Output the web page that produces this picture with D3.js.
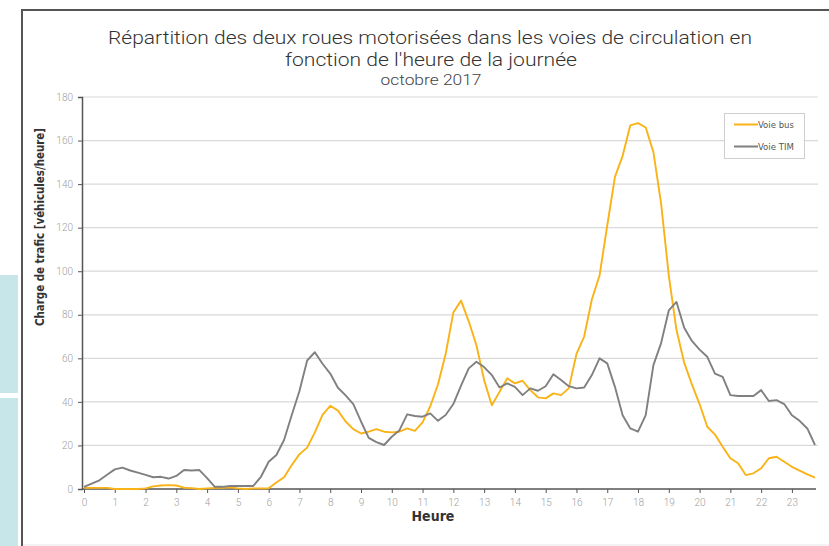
<!DOCTYPE html>
<html>
<head>
<meta charset="utf-8">
<script src="https://cdn.jsdelivr.net/npm/d3@7"></script>
<style>
  html, body { margin: 0; padding: 0; background: #ffffff; }
  svg { display: block; }
</style>
</head>
<body>
<svg id="chart" width="829" height="546"></svg>
<script>
// ---- Data (quarter-hour steps from 0:00 to 23:45) ----
const seriesNames = ["Voie bus", "Voie TIM"];
const seriesColors = ["#F9B317", "#808080"];

const voieBus = [
  0.5, 0.5, 0.5, 0.5,   0, 0, 0, 0,
  0.3, 1.2, 1.6, 1.8,   1.6, 0.6, 0.4, 0,
  0.3, 0.5, 0.5, 0.8,   0.3, 0, 0.3, 0.3,
  0.3, 3, 5.4, 11,      16, 19, 26, 34,
  38.2, 36, 31, 27.5,   25.5, 26.3, 27.5, 26.3,
  26, 26.3, 27.8, 26.7, 30.6, 38, 48, 62,
  81, 86.5, 77, 66,     50, 38.5, 44.6, 50.8,
  48.5, 49.7, 45.4, 42.1, 41.6, 43.9, 43.1, 46.2,
  62, 70, 87, 98,       121, 143.3, 153, 167,
  168, 166, 154.7, 131, 98, 73, 58, 48,
  39, 28.6, 25, 19.4,   14.1, 11.8, 6.4, 7.2,
  9.5, 14.1, 14.8, 12.5, 10.2, 8.4, 6.7, 5.2
];

const voieTIM = [
  1, 2.5, 4, 6.5,       9, 9.8, 8.5, 7.5,
  6.5, 5.4, 5.6, 4.8,   6, 8.7, 8.5, 8.7,
  5, 1, 1, 1.4,         1.4, 1.4, 1.4, 5.6,
  12.5, 15.6, 22.5, 34, 45, 59, 62.8, 57.5,
  53, 46.5, 43, 39,     31, 23.5, 21.5, 20.2,
  24, 27, 34.3, 33.5,   33.2, 34.7, 31.3, 34,
  39, 47.5, 55.4, 58.4, 56, 52.3, 46.6, 48.5,
  46.9, 43.1, 46.2, 45.1, 47.2, 52.7, 50, 47.2,
  46.2, 46.6, 52.3, 60, 57.7, 46.9, 33.9, 27.8,
  26.3, 33.9, 56.9, 67, 82, 85.9, 74, 68,
  64, 60.7, 53, 51.5,   43.1, 42.7, 42.7, 42.7,
  45.4, 40.4, 40.8, 39, 33.9, 31.3, 27.8, 20.2
];

const hourTicks = d3.range(0, 24);           // 0 .. 23
const yTicks = [0, 20, 40, 60, 80, 100, 120, 140, 160, 180];

const titleLines = [
  "Répartition des deux roues motorisées dans les voies de circulation en",
  "fonction de l'heure de la journée"
];
const subtitle = "octobre 2017";
const xTitle = "Heure";
const yTitle = "Charge de trafic [véhicules/heure]";

// ---- Layout ----
const svg = d3.select("#chart");
const plot = { left: 84, right: 815, top: 97, bottom: 489 };
const narrow = "'Liberation Sans Narrow', 'DejaVu Sans Condensed', Arial, sans-serif";
const light = "Roboto, 'Open Sans', Arial, sans-serif";

// side decorations (light blue panels) and frame
svg.append("rect").attr("x", 0).attr("y", 275).attr("width", 18).attr("height", 118).attr("fill", "#c7e6ea");
svg.append("rect").attr("x", 0).attr("y", 398).attr("width", 18).attr("height", 150).attr("fill", "#c7e6ea");
svg.append("line").attr("x1", 22).attr("x2", 22).attr("y1", 10).attr("y2", 546)
  .attr("stroke", "#555").attr("stroke-width", 2);
svg.append("line").attr("x1", 21).attr("x2", 829).attr("y1", 10).attr("y2", 10)
  .attr("stroke", "#555").attr("stroke-width", 2);
svg.append("line").attr("x1", 23).attr("x2", 829).attr("y1", 545).attr("y2", 545)
  .attr("stroke", "#e6e6e6").attr("stroke-width", 1);

// ---- Scales ----
const x = d3.scaleLinear().domain([0, 23.75]).range([plot.left, plot.right]);
const y = d3.scaleLinear().domain([0, 180]).range([plot.bottom, plot.top]);

// gridlines
svg.append("g").selectAll("line").data(yTicks.filter(d => d > 0)).join("line")
  .attr("x1", plot.left - 2).attr("x2", 818)
  .attr("y1", d => y(d)).attr("y2", d => y(d))
  .attr("stroke", "#d9d9d9").attr("stroke-width", 1.2);

// y axis
const yAxis = svg.append("g").attr("transform", `translate(${plot.left - 2},0)`)
  .call(d3.axisLeft(y).tickValues(yTicks).tickSize(4).tickPadding(5));
yAxis.select(".domain").attr("stroke", "#555").attr("stroke-width", 1.5);
yAxis.selectAll(".tick line").attr("stroke", "#555");
yAxis.selectAll("text").attr("fill", "#a0a0a0").style("font-family", light).style("font-weight", "300").style("font-size", "10px");

// x axis
const xAxis = svg.append("g").attr("transform", `translate(0,${plot.bottom})`)
  .call(d3.axisBottom(x).tickValues(hourTicks).tickFormat(d3.format("d")).tickSize(4).tickPadding(6).tickSizeOuter(0));
xAxis.select(".domain").attr("stroke", "#555").attr("stroke-width", 1.5)
  .attr("d", `M${plot.left - 2},0H${plot.right + 1}`);
xAxis.selectAll(".tick line").attr("stroke", "#555");
xAxis.selectAll("text").attr("fill", "#a0a0a0").style("font-family", light).style("font-weight", "300").style("font-size", "10px");

// ---- Lines ----
const line = d3.line().x((d, i) => x(i / 4)).y(d => y(d));
[voieBus, voieTIM].forEach((vals, k) => {
  svg.append("path").datum(vals)
    .attr("fill", "none")
    .attr("stroke", seriesColors[k])
    .attr("stroke-width", 1.9)
    .attr("stroke-linejoin", "round")
    .attr("d", line);
});

// ---- Titles ----
const tl = svg.append("g").style("font-family", light).style("font-weight", "300").attr("fill", "#333");
tl.append("text").attr("x", 430).attr("y", 44).attr("text-anchor", "middle")
  .style("font-size", "19px").attr("textLength", 644).attr("lengthAdjust", "spacingAndGlyphs")
  .text(titleLines[0]);
tl.append("text").attr("x", 431).attr("y", 66).attr("text-anchor", "middle")
  .style("font-size", "19px").attr("textLength", 292).attr("lengthAdjust", "spacingAndGlyphs")
  .text(titleLines[1]);
tl.append("text").attr("x", 431).attr("y", 85).attr("text-anchor", "middle")
  .style("font-size", "14px").attr("fill", "#444").attr("textLength", 101).attr("lengthAdjust", "spacingAndGlyphs")
  .text(subtitle);

svg.append("text").attr("x", 433).attr("y", 521).attr("text-anchor", "middle")
  .style("font-family", narrow).style("font-size", "14px").style("font-weight", "bold").attr("fill", "#333")
  .text(xTitle);

svg.append("text").attr("transform", "translate(44,227) rotate(-90)").attr("text-anchor", "middle")
  .style("font-family", narrow).style("font-size", "13px").style("font-weight", "bold").attr("fill", "#333")
  .attr("textLength", 198).attr("lengthAdjust", "spacingAndGlyphs")
  .text(yTitle);

// ---- Legend ----
const lg = svg.append("g");
lg.append("rect").attr("x", 724.5).attr("y", 113.5).attr("width", 80).attr("height", 45)
  .attr("fill", "#fff").attr("stroke", "#cfcfcf").attr("stroke-width", 1);
seriesNames.forEach((name, k) => {
  const ly = 124.5 + k * 22;
  lg.append("line").attr("x1", 734).attr("x2", 758).attr("y1", ly).attr("y2", ly)
    .attr("stroke", seriesColors[k]).attr("stroke-width", 2);
  lg.append("text").attr("x", 758).attr("y", ly + 3.5)
    .style("font-family", narrow).style("font-size", "9.5px").attr("fill", "#555")
    .text(name);
});
</script>
</body>
</html>
